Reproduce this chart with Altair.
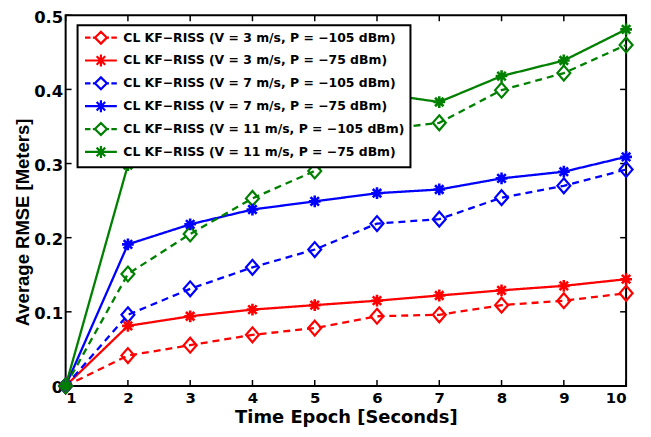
import altair as alt
import pandas as pd

epochs = [1, 2, 3, 4, 5, 6, 7, 8, 9, 10]
y_ticks = [0, 0.1, 0.2, 0.3, 0.4, 0.5]

series_names = [
    "CL KF\u2212RISS (V = 3 m/s, P = \u2212105 dBm)",
    "CL KF\u2212RISS (V = 3 m/s, P = \u221275 dBm)",
    "CL KF\u2212RISS (V = 7 m/s, P = \u2212105 dBm)",
    "CL KF\u2212RISS (V = 7 m/s, P = \u221275 dBm)",
    "CL KF\u2212RISS (V = 11 m/s, P = \u2212105 dBm)",
    "CL KF\u2212RISS (V = 11 m/s, P = \u221275 dBm)",
]
series_styles = ["dashed", "solid", "dashed", "solid", "dashed", "solid"]
series_colors = ["#ff0000", "#ff0000", "#0000ff", "#0000ff", "#008000", "#008000"]

red_dashed = [0, 0.041, 0.055, 0.069, 0.078, 0.094, 0.096, 0.109, 0.115, 0.125]
red_solid = [0, 0.081, 0.094, 0.103, 0.109, 0.115, 0.122, 0.129, 0.135, 0.144]
blue_dashed = [0, 0.096, 0.131, 0.160, 0.184, 0.219, 0.225, 0.254, 0.270, 0.292]
blue_solid = [0, 0.191, 0.218, 0.238, 0.249, 0.260, 0.265, 0.280, 0.289, 0.309]
green_dashed = [0, 0.151, 0.205, 0.253, 0.290, 0.345, 0.355, 0.399, 0.422, 0.460]
green_solid = [0, 0.298, 0.335, 0.360, 0.380, 0.395, 0.383, 0.418, 0.439, 0.481]

all_values = [red_dashed, red_solid, blue_dashed, blue_solid, green_dashed, green_solid]

rows = []
for name, style, vals in zip(series_names, series_styles, all_values):
    for e, v in zip(epochs, vals):
        rows.append({"series": name, "style": style, "epoch": e, "rmse": v})
df = pd.DataFrame(rows)

W, H = 564, 373
WIDE = "DejaVu Sans"
NARROW = "Liberation Sans"

diamond_path = "M0,-1.07L0.93,0L0,1.07L-0.93,0Z"
asterisk_path = "M-1,0L1,0M0,-1L0,1M-0.72,-0.72L0.72,0.72M-0.72,0.72L0.72,-0.72"
leg_dashed = "M-2.67,0L-1.75,0M-1.35,0L-0.95,0M0,-1L1,0L0,1L-1,0ZM0.95,0L1.35,0M1.75,0L2.67,0"
leg_solid = "M-2.67,0L2.67,0M0,-1L0,1M-0.72,-0.72L0.72,0.72M-0.72,0.72L0.72,-0.72"
legend_paths = [leg_dashed if s == "dashed" else leg_solid for s in series_styles]

legend = alt.Legend(
    title=None, orient="none", legendX=12, legendY=10,
    fillColor="white", strokeColor="black", padding=5,
    labelFont=WIDE, labelFontSize=12.5, labelFontWeight="bold", labelColor="black",
    labelLimit=500, symbolSize=144, symbolStrokeWidth=2.2, symbolOpacity=1,
    symbolOffset=11, labelOffset=15, rowPadding=2,
)

color_enc = alt.Color("series:N", scale=alt.Scale(domain=series_names, range=series_colors),
                      legend=legend, sort=series_names)

x_axis = alt.Axis(values=epochs, ticks=False, domain=False, grid=False,
                  labelFont=WIDE, labelFontSize=15, labelFontWeight="bold", labelColor="black",
                  labelPadding=5, title="Time Epoch [Seconds]", titleFont=WIDE, titleFontSize=18,
                  titleFontWeight="bold", titleColor="black", titlePadding=3)
y_axis = alt.Axis(values=y_ticks, ticks=False, domain=False, grid=False,
                  labelExpr="datum.value == 0 ? '0' : format(datum.value, '.1f')",
                  labelFont=WIDE, labelFontSize=16.5, labelFontWeight="bold", labelColor="black",
                  labelPadding=3, labelOffset=2, title="Average RMSE [Meters]", titleFont=NARROW,
                  titleFontSize=18.6, titleFontWeight="bold", titleColor="black", titlePadding=1,
                  titleY=208)

x_enc = alt.X("epoch:Q", scale=alt.Scale(domain=[1, 10], nice=False, zero=False), axis=x_axis)
y_enc = alt.Y("rmse:Q", scale=alt.Scale(domain=[0, 0.5], nice=False), axis=y_axis)

base = alt.Chart(df)

lines = base.mark_line(strokeWidth=2.3).encode(
    x=x_enc, y=y_enc, color=color_enc,
    strokeDash=alt.StrokeDash("style:N", scale=alt.Scale(domain=["dashed", "solid"], range=[[7, 5], [1, 0]]), legend=None),
    detail="series:N",
)

diamonds = base.transform_filter(alt.datum.style == "dashed").mark_point(
    filled=False, strokeWidth=2.2, size=196, opacity=1, shape=diamond_path
).encode(x=x_enc, y=y_enc, color=color_enc)

asterisks = base.transform_filter(alt.datum.style == "solid").mark_point(
    filled=False, strokeWidth=2.6, size=140, opacity=1, shape=asterisk_path
).encode(x=x_enc, y=y_enc, color=color_enc)

legend_layer = base.mark_point(filled=False, opacity=0, size=144).encode(
    x=x_enc, y=y_enc, color=color_enc,
    shape=alt.Shape("series:N", scale=alt.Scale(domain=series_names, range=legend_paths),
                    legend=legend, sort=series_names),
)

xt = alt.Chart(pd.DataFrame({"epoch": epochs}))
yt = alt.Chart(pd.DataFrame({"rmse": y_ticks}))
tick_bottom = xt.mark_rule(color="black", strokeWidth=1.5).encode(x=x_enc, y=alt.value(H), y2=alt.value(H - 6))
tick_top = xt.mark_rule(color="black", strokeWidth=1.5).encode(x=x_enc, y=alt.value(0), y2=alt.value(6))
tick_left = yt.mark_rule(color="black", strokeWidth=1.5).encode(y=y_enc, x=alt.value(0), x2=alt.value(6))
tick_right = yt.mark_rule(color="black", strokeWidth=1.5).encode(y=y_enc, x=alt.value(W - 6), x2=alt.value(W))

chart = alt.layer(
    tick_bottom, tick_top, tick_left, tick_right, lines, diamonds, asterisks, legend_layer
).properties(
    width=W, height=H, padding={"left": 5, "top": 0, "right": 0, "bottom": 0}
).configure_view(stroke="black", strokeWidth=2).configure_legend(strokeWidth=2)

chart.save("out.html", embed_options={"renderer": "svg", "actions": False})
